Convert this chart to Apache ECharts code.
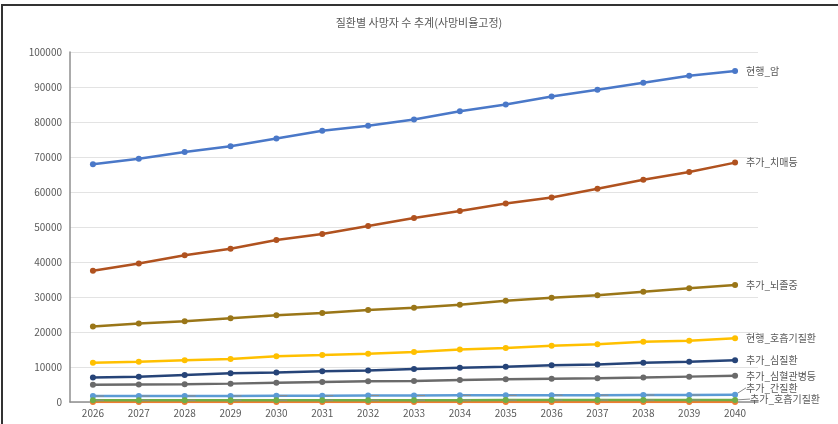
<!DOCTYPE html>
<html>
<head>
<meta charset="utf-8">
<script src="https://cdn.jsdelivr.net/npm/echarts@6/dist/echarts.min.js"></script>
<style>
  html, body { margin: 0; padding: 0; background: #fff; }
  #chart { width: 838px; height: 424px; }
</style>
</head>
<body>
<div id="chart"></div>
<script>
// Projected deaths by disease, 2026-2040 (fixed death ratio)
const years = ['2026','2027','2028','2029','2030','2031','2032','2033','2034','2035','2036','2037','2038','2039','2040'];

const cancerCurrent   = [67900, 69500, 71400, 73100, 75300, 77500, 78900, 80700, 83100, 85000, 87300, 89200, 91200, 93200, 94600];
const dementiaAdded   = [37500, 39600, 41900, 43800, 46300, 48000, 50300, 52600, 54600, 56700, 58400, 60900, 63500, 65700, 68400];
const strokeAdded     = [21600, 22400, 23100, 23900, 24800, 25400, 26300, 26900, 27800, 28900, 29800, 30500, 31500, 32500, 33400];
const respCurrent     = [11200, 11500, 11900, 12300, 13100, 13400, 13800, 14300, 15000, 15400, 16100, 16500, 17200, 17500, 18200];
const heartAdded      = [ 7000,  7200,  7700,  8200,  8400,  8800,  9000,  9400,  9800, 10100, 10500, 10700, 11200, 11500, 11900];
const vascularAdded   = [ 4900,  5000,  5100,  5250,  5500,  5700,  5900,  6000,  6300,  6500,  6650,  6800,  7000,  7250,  7500];
const liverAdded      = [ 1700,  1700,  1750,  1750,  1800,  1800,  1850,  1850,  1900,  1900,  1950,  1950,  2000,  2000,  2050];
const respAdded       = [  500,   500,   500,   510,   510,   520,   520,   530,   530,   540,   540,   550,   550,   560,   560];
const otherAdded      = [   20,    20,    20,    20,    20,    20,    20,    30,    30,    30,    30,    30,    30,    30,    30];

const yTicks = { min: 0, max: 100000, interval: 10000 };

const chart = echarts.init(document.getElementById('chart'), null, { renderer: 'canvas' });
const FONT = '"Noto Sans CJK KR", "Noto Sans", sans-serif';
const TEXT = '#595959';
const last = years.length - 1;

function makeSeries(name, data, color, opts) {
  opts = opts || {};
  return {
    name: name,
    type: 'line',
    data: data,
    symbol: 'circle',
    symbolSize: 6,
    z: opts.z || 2,
    itemStyle: { color: color },
    lineStyle: { color: color, width: 2.5 },
    label: {
      show: !opts.noLabel,
      position: 'right',
      distance: 8,
      color: TEXT,
      fontSize: 10,
      fontFamily: FONT,
      formatter: p => (p.dataIndex === last ? p.seriesName : '')
    },
    labelLayout: opts.dy ? (p => (p.dataIndex === last ? { dy: opts.dy, dx: opts.dx || 0 } : null)) : undefined,
    labelLine: opts.dy ? { show: true, lineStyle: { color: '#8c8c8c', width: 1 } } : undefined
  };
}

chart.setOption({
  animation: false,
  backgroundColor: '#ffffff',
  title: {
    text: '질환별 사망자 수 추계(사망비율고정)',
    left: 'center',
    top: 12,
    textStyle: { fontSize: 11, fontWeight: 'normal', color: TEXT, fontFamily: FONT }
  },
  grid: { left: 70, right: 80, top: 52, bottom: 22, containLabel: false },
  xAxis: {
    type: 'category',
    data: years,
    boundaryGap: true,
    axisLine: { show: true, lineStyle: { color: '#8f8f8f', width: 1.5 } },
    axisTick: { show: false },
    axisLabel: { color: TEXT, fontSize: 10, fontFamily: FONT, margin: 6 }
  },
  yAxis: {
    type: 'value',
    min: yTicks.min,
    max: yTicks.max,
    interval: yTicks.interval,
    axisLine: { show: true, lineStyle: { color: '#8f8f8f', width: 1.5 } },
    axisTick: { show: false },
    splitLine: { lineStyle: { color: '#e3e3e3', width: 1 } },
    axisLabel: { color: TEXT, fontSize: 10, fontFamily: FONT, margin: 8, formatter: v => String(v) }
  },
  series: [
    makeSeries('추가_기타', otherAdded, '#ed7d31', { noLabel: true, z: 1 }),
    makeSeries('현행_암', cancerCurrent, '#4a78c8'),
    makeSeries('추가_치매등', dementiaAdded, '#b0521f'),
    makeSeries('추가_뇌졸중', strokeAdded, '#9a7618'),
    makeSeries('현행_호흡기질환', respCurrent, '#ffc000'),
    makeSeries('추가_심질환', heartAdded, '#264478'),
    makeSeries('추가_심혈관병등', vascularAdded, '#6a6a6a'),
    makeSeries('추가_간질환', liverAdded, '#5b9bd5', { dy: -7 }),
    makeSeries('추가_호흡기질환', respAdded, '#70ad47', { dy: -1, dx: 4, z: 3 })
  ],
  graphic: [
    {
      type: 'rect',
      shape: { x: 2, y: 5, width: 850, height: 440 },
      style: { fill: null, stroke: '#333333', lineWidth: 2 },
      silent: true,
      z: 100
    }
  ]
});
</script>
</body>
</html>
